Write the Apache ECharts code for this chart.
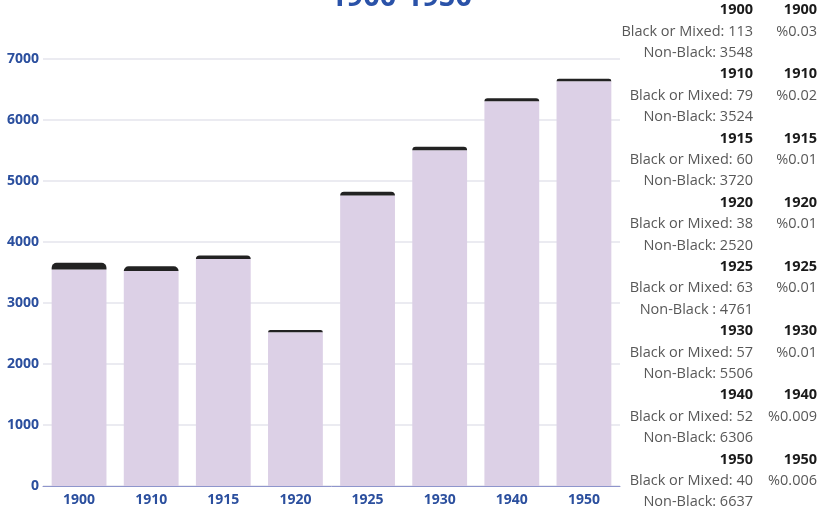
<!DOCTYPE html>
<html><head><meta charset="utf-8">
<script src="https://cdn.jsdelivr.net/npm/echarts@6/dist/echarts.min.js"></script>
<style>html,body{margin:0;padding:0;background:#fff}#c{width:819px;height:515px}</style>
</head><body><div id="c"></div>
<script>
const years = ['1900','1910','1915','1920','1925','1930','1940','1950'];
const blackMixed = [113, 79, 60, 38, 63, 57, 52, 40];
const nonBlack = [3548, 3524, 3720, 2520, 4761, 5506, 6306, 6637];
const percents = ['%0.03','%0.02','%0.01','%0.01','%0.01','%0.01','%0.009','%0.006'];
const nonBlackLabel = ['Non-Black: ','Non-Black: ','Non-Black: ','Non-Black: ','Non-Black : ','Non-Black: ','Non-Black: ','Non-Black: '];
const yTicks = [0,1000,2000,3000,4000,5000,6000,7000];
const titleText = '1900-1950';

const chart = echarts.init(document.getElementById('c'));
const blue = '#2b4f9e';
const graphics = [{
  type:'text', x:401, y:-17,
  style:{text:titleText, font:'bold 29px "Open Sans", sans-serif', fill:'#2a52a8', align:'center'}
}];
const lh = 21.4, startY = 10;
const f = '14.5px "Open Sans", sans-serif', fb = 'bold 14.5px "Open Sans", sans-serif';
years.forEach((y,i)=>{
  const base = startY + i*3*lh;
  graphics.push({type:'text', x:753, y:base, style:{text:y, font:fb, fill:'#1a1a1a', align:'right', verticalAlign:'middle'}});
  graphics.push({type:'text', x:817, y:base, style:{text:y, font:fb, fill:'#1a1a1a', align:'right', verticalAlign:'middle'}});
  graphics.push({type:'text', x:753, y:base+lh, style:{text:'Black or Mixed: '+blackMixed[i], font:f, fill:'#585858', align:'right', verticalAlign:'middle'}});
  graphics.push({type:'text', x:817, y:base+lh, style:{text:percents[i], font:f, fill:'#585858', align:'right', verticalAlign:'middle'}});
  graphics.push({type:'text', x:753, y:base+2*lh, style:{text:nonBlackLabel[i]+nonBlack[i], font:f, fill:'#585858', align:'right', verticalAlign:'middle'}});
});

chart.setOption({
  animation:false,
  grid:{left:43, right:199, top:59, bottom:29},
  xAxis:{type:'category', data:years,
    axisLine:{lineStyle:{color:'#8e95cc', width:1}}, axisTick:{show:false},
    axisLabel:{color:blue, fontWeight:'bold', fontSize:14, fontFamily:'"Open Sans", sans-serif', margin:7}},
  yAxis:{type:'value', min:yTicks[0], max:yTicks[yTicks.length-1], interval:1000,
    axisLabel:{color:blue, fontWeight:'bold', fontSize:14, fontFamily:'"Open Sans", sans-serif', margin:4, formatter:v=>String(v)},
    splitLine:{lineStyle:{color:'#e4e4ec', width:1.5}}, axisLine:{show:false}, axisTick:{show:false}},
  series:[
    {name:'Non-Black', type:'bar', stack:'a', data:nonBlack, barWidth:'76%', itemStyle:{color:'#dcd0e6'}},
    {name:'Black or Mixed', type:'bar', stack:'a', data:blackMixed, itemStyle:{color:'#222222', borderRadius:[5,5,0,0]}}
  ],
  graphic:graphics
});
</script></body></html>
